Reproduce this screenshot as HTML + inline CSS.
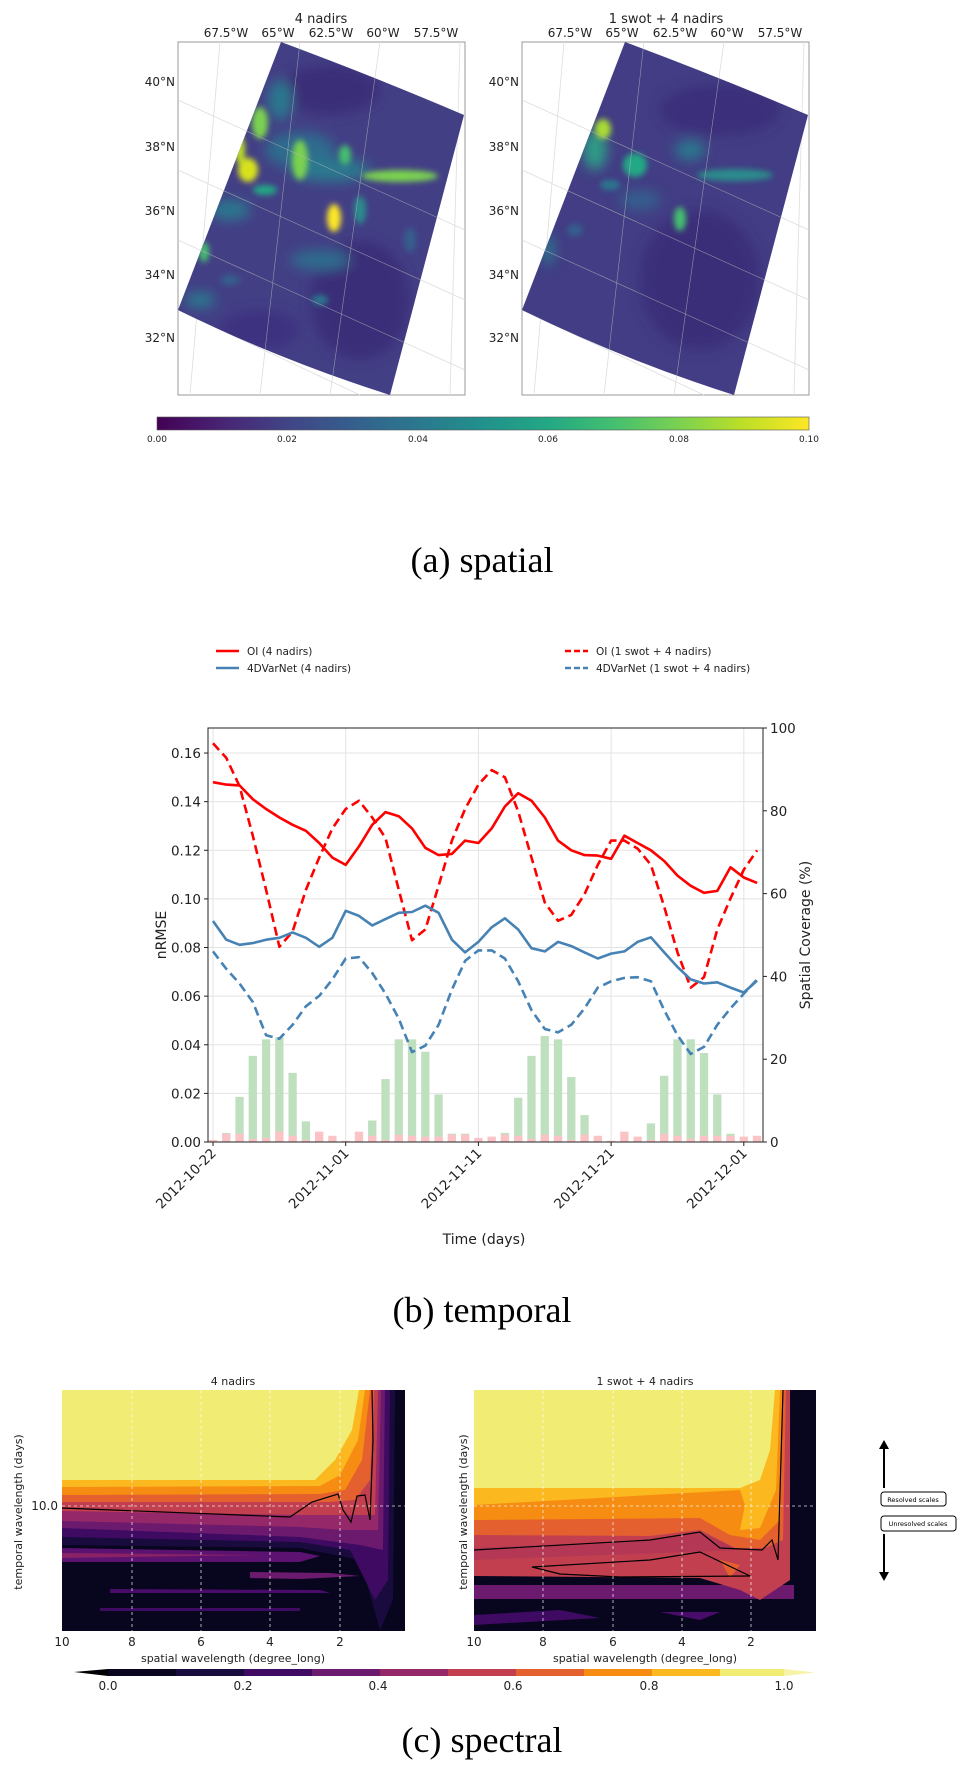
<!DOCTYPE html>
<html><head><meta charset="utf-8">
<style>
html,body{margin:0;padding:0;background:#fff;}
#root{position:relative;width:965px;height:1768px;overflow:hidden;}
svg text{font-family:"DejaVu Sans","Liberation Sans",sans-serif;}
.cap{font-family:"Liberation Serif",serif;font-size:36px;}
</style></head>
<body>
<div id="root">
<svg id="svg" width="965" height="1768" viewBox="0 0 965 1768" xmlns="http://www.w3.org/2000/svg">
<defs>
  <filter id="blur6" x="-50%" y="-50%" width="200%" height="200%"><feGaussianBlur stdDeviation="6"/></filter>
  <filter id="blur3" x="-50%" y="-50%" width="200%" height="200%"><feGaussianBlur stdDeviation="3"/></filter>
  <clipPath id="clipL"><path d="M281,42 Q370,75 464,115 L390,395 Q280,360 178,310 Z"/></clipPath>
  <clipPath id="clipR"><path d="M625,42 Q714,75 808,115 L734,395 Q624,360 522,310 Z"/></clipPath>
  <linearGradient id="viridis" x1="0" x2="1" y1="0" y2="0">
    <stop offset="0" stop-color="#440154"/><stop offset="0.1" stop-color="#482475"/>
    <stop offset="0.2" stop-color="#414487"/><stop offset="0.3" stop-color="#355f8d"/>
    <stop offset="0.4" stop-color="#2a788e"/><stop offset="0.5" stop-color="#21918c"/>
    <stop offset="0.6" stop-color="#22a884"/><stop offset="0.7" stop-color="#44bf70"/>
    <stop offset="0.8" stop-color="#7ad151"/><stop offset="0.9" stop-color="#bddf26"/>
    <stop offset="1" stop-color="#fde725"/>
  </linearGradient>
</defs>

<!-- ============ (a) spatial ============ -->
<g>
  <rect x="178" y="42" width="287" height="353" fill="#fff" stroke="#999" stroke-width="1"/>
  <g stroke="#ddd" stroke-width="0.8">
    <line x1="178" y1="100" x2="465" y2="230"/><line x1="178" y1="170" x2="465" y2="300"/>
    <line x1="178" y1="240" x2="465" y2="370"/><line x1="178" y1="310" x2="360" y2="395"/>
    <line x1="220" y1="42" x2="190" y2="395"/><line x1="300" y1="42" x2="260" y2="395"/>
    <line x1="380" y1="42" x2="330" y2="395"/><line x1="460" y1="42" x2="450" y2="395"/>
  </g>
  <g clip-path="url(#clipL)">
    <rect x="170" y="40" width="300" height="360" fill="#433f85"/>
    <g filter="url(#blur6)">
      <ellipse cx="330" cy="90" rx="50" ry="25" fill="#3a2d78"/>
      <ellipse cx="360" cy="300" rx="50" ry="60" fill="#3b2e79"/>
      <ellipse cx="260" cy="330" rx="40" ry="20" fill="#3d3280"/>
      <ellipse cx="300" cy="150" rx="35" ry="18" fill="#2f6c8e"/>
      <ellipse cx="330" cy="170" rx="40" ry="12" fill="#2a788e"/>
      <ellipse cx="230" cy="210" rx="20" ry="10" fill="#2a788e"/>
      <ellipse cx="320" cy="260" rx="30" ry="10" fill="#2f6c8e"/>
      <ellipse cx="280" cy="100" rx="12" ry="20" fill="#2a788e"/>
      <ellipse cx="200" cy="300" rx="15" ry="8" fill="#2a788e"/>
    </g>
    <g filter="url(#blur3)">
      <ellipse cx="260" cy="123" rx="8" ry="16" fill="#7ad151"/>
      <ellipse cx="248" cy="170" rx="10" ry="12" fill="#d8e21f"/>
      <ellipse cx="240" cy="150" rx="5" ry="14" fill="#bddf26"/>
      <ellipse cx="300" cy="160" rx="8" ry="20" fill="#7ad151"/>
      <ellipse cx="334" cy="218" rx="7" ry="14" fill="#fde725"/>
      <ellipse cx="345" cy="155" rx="6" ry="10" fill="#44bf70"/>
      <ellipse cx="400" cy="176" rx="38" ry="6" fill="#7ad151"/>
      <ellipse cx="204" cy="252" rx="5" ry="10" fill="#44bf70"/>
      <ellipse cx="265" cy="190" rx="12" ry="5" fill="#22a884"/>
      <ellipse cx="360" cy="210" rx="6" ry="14" fill="#2a8c8c"/>
      <ellipse cx="230" cy="280" rx="10" ry="5" fill="#355f8d"/>
      <ellipse cx="320" cy="300" rx="8" ry="5" fill="#2a788e"/>
      <ellipse cx="410" cy="240" rx="6" ry="12" fill="#355f8d"/>
    </g>
    <g stroke="#bbb" stroke-width="0.6" opacity="0.7">
      <line x1="178" y1="100" x2="465" y2="230"/><line x1="178" y1="170" x2="465" y2="300"/>
      <line x1="178" y1="240" x2="465" y2="370"/><line x1="300" y1="42" x2="260" y2="395"/>
      <line x1="380" y1="42" x2="330" y2="395"/>
    </g>
  </g>
</g>
<g>
  <rect x="522" y="42" width="287" height="353" fill="#fff" stroke="#999" stroke-width="1"/>
  <g stroke="#ddd" stroke-width="0.8">
    <line x1="522" y1="100" x2="809" y2="230"/><line x1="522" y1="170" x2="809" y2="300"/>
    <line x1="522" y1="240" x2="809" y2="370"/><line x1="522" y1="310" x2="704" y2="395"/>
    <line x1="564" y1="42" x2="534" y2="395"/><line x1="644" y1="42" x2="604" y2="395"/>
    <line x1="724" y1="42" x2="674" y2="395"/><line x1="804" y1="42" x2="794" y2="395"/>
  </g>
  <g clip-path="url(#clipR)">
    <rect x="514" y="40" width="300" height="360" fill="#423d84"/>
    <g filter="url(#blur6)">
      <ellipse cx="700" cy="280" rx="60" ry="70" fill="#3b2e79"/>
      <ellipse cx="720" cy="110" rx="60" ry="25" fill="#3b2f7a"/>
      <ellipse cx="595" cy="150" rx="12" ry="20" fill="#2e9b86"/>
      <ellipse cx="690" cy="150" rx="15" ry="10" fill="#2a788e"/>
      <ellipse cx="548" cy="250" rx="6" ry="15" fill="#2a788e"/>
      <ellipse cx="640" cy="200" rx="20" ry="10" fill="#355f8d"/>
    </g>
    <g filter="url(#blur3)">
      <ellipse cx="603" cy="129" rx="8" ry="10" fill="#a8db34"/>
      <ellipse cx="635" cy="165" rx="12" ry="12" fill="#22a884"/>
      <ellipse cx="680" cy="219" rx="6" ry="12" fill="#44bf70"/>
      <ellipse cx="735" cy="175" rx="38" ry="6" fill="#2a8c8c"/>
      <ellipse cx="610" cy="185" rx="10" ry="5" fill="#2a788e"/>
      <ellipse cx="575" cy="230" rx="8" ry="6" fill="#355f8d"/>
    </g>
    <g stroke="#bbb" stroke-width="0.6" opacity="0.7">
      <line x1="522" y1="100" x2="809" y2="230"/><line x1="522" y1="170" x2="809" y2="300"/>
      <line x1="522" y1="240" x2="809" y2="370"/><line x1="644" y1="42" x2="604" y2="395"/>
      <line x1="724" y1="42" x2="674" y2="395"/>
    </g>
  </g>
</g>
<g font-size="12" fill="#222">
  <text x="321" y="23" text-anchor="middle" font-size="13">4 nadirs</text>
  <text x="666" y="23" text-anchor="middle" font-size="13">1 swot + 4 nadirs</text>
  <g text-anchor="middle">
    <text x="226" y="37">67.5°W</text><text x="278" y="37">65°W</text><text x="331" y="37">62.5°W</text><text x="383" y="37">60°W</text><text x="436" y="37">57.5°W</text>
  </g>
  <g text-anchor="middle">
    <text x="570" y="37">67.5°W</text><text x="622" y="37">65°W</text><text x="675" y="37">62.5°W</text><text x="727" y="37">60°W</text><text x="780" y="37">57.5°W</text>
  </g>
  <g text-anchor="end">
    <text x="175" y="86">40°N</text><text x="175" y="151">38°N</text><text x="175" y="215">36°N</text><text x="175" y="279">34°N</text><text x="175" y="342">32°N</text>
  </g>
  <g text-anchor="end">
    <text x="519" y="86">40°N</text><text x="519" y="151">38°N</text><text x="519" y="215">36°N</text><text x="519" y="279">34°N</text><text x="519" y="342">32°N</text>
  </g>
</g>
<g>
  <rect x="157" y="417" width="652" height="13" fill="url(#viridis)" stroke="#555" stroke-width="0.6"/>
  <g font-size="9" fill="#222" text-anchor="middle">
    <text x="157" y="442">0.00</text><text x="287" y="442">0.02</text><text x="418" y="442">0.04</text>
    <text x="548" y="442">0.06</text><text x="679" y="442">0.08</text><text x="809" y="442">0.10</text>
  </g>
</g>
<text x="482" y="572" text-anchor="middle" class="cap">(a)   spatial</text>

<!-- ============ (b) temporal ============ -->
<g id="tchart"></g>
<text x="482" y="1322" text-anchor="middle" class="cap">(b)   temporal</text>

<!-- ============ (c) spectral ============ -->
<g>
  <svg x="62" y="1390" width="343" height="241" viewBox="62 1390 343 241" overflow="hidden">
    <rect x="62" y="1390" width="343" height="241" fill="#08051e"/>
    <path d="M62,1548 L300,1552 L320,1556 L300,1562 L62,1562 Z" fill="#5c1270"/>
    <path d="M62,1553 L260,1555 L62,1558 Z" fill="#8a2266"/>
    <path d="M250,1572 L330,1573 L360,1576 L300,1579 L250,1578 Z" fill="#6c1a6e"/>
    <path d="M110,1589 L320,1590 L330,1593 L110,1593 Z" fill="#4a0c6b"/>
    <path d="M100,1608 L300,1608 L300,1611 L100,1611 Z" fill="#3f0a62"/>
    <path d="M62,1390 L395,1390 L393,1600 L380,1630 L360,1560 L300,1548 L62,1545 Z" fill="#1a0b3e"/>
    <path d="M62,1390 L390,1390 L388,1580 L375,1600 L350,1550 L300,1542 L62,1537 Z" fill="#3f0a62"/>
    <path d="M62,1390 L385,1390 L383,1550 L360,1545 L300,1537 L62,1528 Z" fill="#6c1a6e"/>
    <path d="M62,1390 L381,1390 L378,1530 L345,1530 L300,1527 L62,1521 Z" fill="#952868"/>
    <path d="M62,1390 L378,1390 L375,1515 L345,1515 L300,1515 L62,1511 Z" fill="#c13f4e"/>
    <path d="M62,1390 L374,1390 L370,1480 L355,1500 L330,1502 L62,1502 Z" fill="#e4602f"/>
    <path d="M62,1390 L370,1390 L362,1460 L345,1490 L320,1494 L62,1495 Z" fill="#f68d12"/>
    <path d="M62,1390 L365,1390 L358,1440 L340,1475 L320,1486 L62,1487 Z" fill="#fbb91f"/>
    <path d="M62,1390 L359,1390 L352,1430 L335,1460 L315,1480 L62,1480 Z" fill="#f0ec74"/>
    <rect x="395" y="1390" width="10" height="241" fill="#08051e"/>
    <path d="M62,1508 L290,1517 L312,1502 L338,1494 L343,1510 L351,1522 L357,1496 L365,1495 L370,1520 L373,1440 L372,1390" fill="none" stroke="#000" stroke-width="1.2"/>
  </svg>
  <g stroke="#fff" stroke-width="0.8" stroke-dasharray="3,3" opacity="0.85">
    <line x1="132" y1="1390" x2="132" y2="1631"/><line x1="201" y1="1390" x2="201" y2="1631"/>
    <line x1="270" y1="1390" x2="270" y2="1631"/><line x1="340" y1="1390" x2="340" y2="1631"/>
    <line x1="62" y1="1506" x2="405" y2="1506"/>
  </g>
</g>
<g>
  <svg x="474" y="1390" width="342" height="241" viewBox="474 1390 342 241" overflow="hidden">
    <rect x="474" y="1390" width="342" height="241" fill="#08051e"/>
    <rect x="474" y="1585" width="320" height="14" fill="#6c1a6e"/>
    <path d="M474,1615 L560,1610 L600,1618 L474,1625 Z" fill="#3f0a62"/>
    <path d="M660,1612 L720,1612 L700,1620 Z" fill="#4a0c6b"/>
    <path d="M474,1390 L790,1390 L790,1580 L760,1600 L740,1590 L700,1578 L474,1576 Z" fill="#c13f4e"/>
    <path d="M474,1548 L650,1540 L700,1532 L740,1550 L474,1560 Z" fill="#a8325d" opacity="0.5"/>
    <path d="M474,1390 L786,1390 L783,1540 L765,1548 L735,1548 L700,1530 L650,1536 L474,1535 Z" fill="#e4602f"/>
    <path d="M474,1390 L783,1390 L780,1520 L760,1540 L730,1535 L700,1518 L474,1520 Z" fill="#f68d12"/>
    <path d="M474,1390 L780,1390 L776,1490 L760,1528 L740,1530 L745,1505 L740,1490 L474,1505 Z" fill="#fbb91f"/>
    <path d="M474,1390 L775,1390 L770,1450 L760,1480 L740,1488 L474,1488 Z" fill="#f0ec74"/>
    <path d="M720,1560 L740,1565 L730,1578 Z" fill="#e4602f"/>
    <rect x="796" y="1390" width="20" height="241" fill="#08051e"/>
    <path d="M474,1550 L650,1540 L700,1532 L720,1548 L762,1550 L772,1540 L778,1560 L783,1390" fill="none" stroke="#000" stroke-width="1.2"/>
    <path d="M532,1567 L650,1560 L700,1552 L750,1576 L620,1577 L560,1574 Z" fill="none" stroke="#000" stroke-width="1.2"/>
  </svg>
  <g stroke="#fff" stroke-width="0.8" stroke-dasharray="3,3" opacity="0.85">
    <line x1="543" y1="1390" x2="543" y2="1631"/><line x1="613" y1="1390" x2="613" y2="1631"/>
    <line x1="682" y1="1390" x2="682" y2="1631"/><line x1="751" y1="1390" x2="751" y2="1631"/>
    <line x1="474" y1="1506" x2="816" y2="1506"/>
  </g>
</g>
<g font-size="11" fill="#222">
  <text x="233" y="1385" text-anchor="middle">4 nadirs</text>
  <text x="645" y="1385" text-anchor="middle">1 swot + 4 nadirs</text>
  <g text-anchor="middle" font-size="12">
    <text x="62" y="1646">10</text><text x="132" y="1646">8</text><text x="201" y="1646">6</text><text x="270" y="1646">4</text><text x="340" y="1646">2</text>
  </g>
  <g text-anchor="middle" font-size="12">
    <text x="474" y="1646">10</text><text x="543" y="1646">8</text><text x="613" y="1646">6</text><text x="682" y="1646">4</text><text x="751" y="1646">2</text>
  </g>
  <text x="233" y="1662" text-anchor="middle">spatial wavelength (degree_long)</text>
  <text x="645" y="1662" text-anchor="middle">spatial wavelength (degree_long)</text>
  <text x="58" y="1510" text-anchor="end" font-size="12">10.0</text>
  <text transform="translate(22,1512) rotate(-90)" text-anchor="middle">temporal wavelength (days)</text>
  <text transform="translate(467,1512) rotate(-90)" text-anchor="middle">temporal wavelength (days)</text>
</g>
<g>
  <line x1="884" y1="1488" x2="884" y2="1448" stroke="#000" stroke-width="2"/>
  <path d="M879,1449 L884,1440 L889,1449 Z" fill="#000"/>
  <rect x="881" y="1492" width="65" height="14" rx="3" fill="#fff" stroke="#000" stroke-width="1"/>
  <text x="913" y="1502" font-size="6.5" text-anchor="middle">Resolved scales</text>
  <rect x="881" y="1516" width="75" height="15" rx="3" fill="#fff" stroke="#000" stroke-width="1"/>
  <text x="918" y="1526" font-size="6.5" text-anchor="middle">Unresolved scales</text>
  <line x1="884" y1="1534" x2="884" y2="1573" stroke="#000" stroke-width="2"/>
  <path d="M879,1572 L884,1581 L889,1572 Z" fill="#000"/>
</g>
<g>
  <path d="M74,1672 L108,1669 L108,1676 Z" fill="#000004"/>
  <rect x="108" y="1669" width="68" height="7" fill="#08051e"/>
  <rect x="176" y="1669" width="68" height="7" fill="#1a0b3e"/>
  <rect x="244" y="1669" width="68" height="7" fill="#3f0a62"/>
  <rect x="312" y="1669" width="68" height="7" fill="#6c1a6e"/>
  <rect x="380" y="1669" width="68" height="7" fill="#952868"/>
  <rect x="448" y="1669" width="68" height="7" fill="#c13f4e"/>
  <rect x="516" y="1669" width="68" height="7" fill="#e4602f"/>
  <rect x="584" y="1669" width="68" height="7" fill="#f68d12"/>
  <rect x="652" y="1669" width="68" height="7" fill="#fbb91f"/>
  <rect x="720" y="1669" width="64" height="7" fill="#f0ec74"/>
  <path d="M784,1669 L815,1672.5 L784,1676 Z" fill="#f7f3a8"/>
  <g font-size="12" fill="#222" text-anchor="middle">
    <text x="108" y="1690">0.0</text><text x="243" y="1690">0.2</text><text x="378" y="1690">0.4</text>
    <text x="513" y="1690">0.6</text><text x="649" y="1690">0.8</text><text x="784" y="1690">1.0</text>
  </g>
</g>
<text x="482" y="1752" text-anchor="middle" class="cap">(c)   spectral</text>
</svg>
</div>
<script>
const days = [0,1,2,3,4,5,6,7,8,9,10,11,12,13,14,15,16,17,18,19,20,21,22,23,24,25,26,27,28,29,30,31,32,33,34,35,36,37,38,39,40,41];
const oi4 = [0.148,0.147,0.1467,0.141,0.137,0.1335,0.1305,0.128,0.123,0.117,0.114,0.1216,0.1305,0.1357,0.134,0.129,0.121,0.118,0.1185,0.124,0.123,0.129,0.138,0.1435,0.1404,0.1335,0.124,0.12,0.118,0.1178,0.1165,0.126,0.123,0.12,0.1156,0.1096,0.1054,0.1025,0.1033,0.113,0.1088,0.1066];
const oiSwot = [0.164,0.158,0.1464,0.126,0.1037,0.0803,0.0866,0.1037,0.117,0.129,0.137,0.1404,0.1335,0.125,0.1037,0.083,0.0874,0.1054,0.124,0.137,0.147,0.153,0.150,0.136,0.117,0.0985,0.091,0.0934,0.102,0.114,0.124,0.124,0.1207,0.114,0.0968,0.078,0.0635,0.0678,0.0874,0.1002,0.112,0.12];
const var4 = [0.0909,0.0832,0.0811,0.0818,0.0832,0.084,0.0862,0.084,0.0803,0.084,0.0951,0.093,0.0891,0.0917,0.0943,0.0946,0.0972,0.0943,0.0832,0.078,0.0823,0.0883,0.092,0.0874,0.0797,0.0784,0.0823,0.0806,0.078,0.0755,0.0775,0.0784,0.0823,0.0842,0.078,0.072,0.0669,0.0652,0.0657,0.0635,0.0615,0.0664];
const varSwot = [0.0784,0.0712,0.0652,0.0576,0.0439,0.0425,0.0482,0.0558,0.0601,0.0669,0.0755,0.076,0.0695,0.061,0.0507,0.037,0.0396,0.0482,0.0627,0.0745,0.0788,0.0788,0.0755,0.0661,0.0542,0.0465,0.0451,0.0482,0.055,0.0635,0.0661,0.0675,0.0678,0.0661,0.0542,0.0439,0.0362,0.0391,0.0482,0.055,0.061,0.0669];
const coverSwot = [0,2.2,10.9,20.8,24.8,25.3,16.7,5,0,0,0,0,5.2,15.2,24.8,24.8,21.8,11.5,2,2,0,0,2.2,10.7,20.8,25.6,24.8,15.7,6.5,0,0,0,0,4.5,16,24.8,24.8,21.5,11.5,2,0,0];
const coverNadir = [0.5,2,2,0.7,1,2.5,1.5,0.5,2.5,1.5,0.3,2.5,1.5,0.5,1.8,1.5,1.3,1.3,1.8,1.8,1,1.3,1.8,1.5,0.8,1.8,1.5,0.5,1.8,1.5,0.3,2.5,1.3,0.5,2,1.5,0.8,1.5,1.5,1.5,1.3,1.5];
const leftTicks = [0,0.02,0.04,0.06,0.08,0.10,0.12,0.14,0.16];
const leftTickLabels = ["0.00","0.02","0.04","0.06","0.08","0.10","0.12","0.14","0.16"];
const rightTicks = [0,20,40,60,80,100];
const dateTicks = [0,10,20,30,40];
const dateLabels = ["2012-10-22","2012-11-01","2012-11-11","2012-11-21","2012-12-01"];

const NS='http://www.w3.org/2000/svg';
const g=document.getElementById('tchart');
const AX={l:208,r:763,t:728,b:1142};
function xS(d){return 213+13.27*d;}
function yL(v){return AX.b-v*(AX.b-AX.t)/0.1703;}
function yR(p){return AX.b-p*(AX.b-AX.t)/100;}
function mk(tag,attrs,parent){const e=document.createElementNS(NS,tag);for(const k in attrs)e.setAttribute(k,attrs[k]);(parent||g).appendChild(e);return e;}

leftTicks.forEach(v=>{const l=mk('line',{x1:AX.l,x2:AX.r,y1:yL(v),y2:yL(v),stroke:'#e3e3e3','stroke-width':1});

});
dateTicks.forEach(d=>{const l=mk('line',{x1:xS(d),x2:xS(d),y1:AX.t,y2:AX.b,stroke:'#e3e3e3','stroke-width':1});

});
const bw=8.3;
days.forEach((d,i)=>{
  if(coverSwot[i]>0){const b=mk('rect',{x:xS(d)-bw/2,y:yR(coverSwot[i]),width:bw,height:AX.b-yR(coverSwot[i]),fill:'#bfe0bf'});
  
  }
  const p=mk('rect',{x:xS(d)-bw/2,y:yR(coverNadir[i]),width:bw,height:AX.b-yR(coverNadir[i]),fill:'#fbc3c6'});
  
  
});
function line(arr,color,dash,name){
  const pts=days.map((d,i)=>xS(d).toFixed(1)+','+yL(arr[i]).toFixed(1)).join(' ');
  const a={points:pts,fill:'none',stroke:color,'stroke-width':2.6,'stroke-linejoin':'round'};
  if(dash)a['stroke-dasharray']=dash;
  const e=mk('polyline',a);
  
  
}
line(oi4,'#ff0000',null,'line-oi-4-nadirs');
line(oiSwot,'#ff0000','9,5','line-oi-swot');
line(var4,'#4682b4',null,'line-4dvarnet-4-nadirs');
line(varSwot,'#4682b4','9,5','line-4dvarnet-swot');
const fr=mk('rect',{x:AX.l,y:AX.t,width:AX.r-AX.l,height:AX.b-AX.t,fill:'none',stroke:'#222','stroke-width':1});


leftTicks.forEach((v,i)=>{
  mk('line',{x1:AX.l-4,x2:AX.l,y1:yL(v),y2:yL(v),stroke:'#222'});
  const t=mk('text',{x:AX.l-7,y:yL(v)+5,'text-anchor':'end','font-size':13.5,fill:'#222'});
  t.textContent=leftTickLabels[i];
  
  
});
rightTicks.forEach(p=>{
  mk('line',{x1:AX.r,x2:AX.r+4,y1:yR(p),y2:yR(p),stroke:'#222'});
  const t=mk('text',{x:AX.r+7,y:yR(p)+5,'font-size':13.5,fill:'#222'});
  t.textContent=String(p);
  
  
});
dateTicks.forEach((d,i)=>{
  mk('line',{x1:xS(d),x2:xS(d),y1:AX.b,y2:AX.b+4,stroke:'#222'});
  const t=mk('text',{transform:'translate('+(xS(d)+4)+','+(AX.b+12)+') rotate(-45)','text-anchor':'end','font-size':13.5,fill:'#222'});
  t.textContent=dateLabels[i];
  
  
});
const xl=mk('text',{x:484,y:1244,'text-anchor':'middle','font-size':14,fill:'#222'});xl.textContent='Time (days)';


const yl=mk('text',{transform:'translate(166,935) rotate(-90)','text-anchor':'middle','font-size':14,fill:'#222'});yl.textContent='nRMSE';


const y2=mk('text',{transform:'translate(810,935) rotate(-90)','text-anchor':'middle','font-size':14,fill:'#222'});y2.textContent='Spatial Coverage (%)';


const legItems=[[216,651,'#ff0000',null,'OI (4 nadirs)'],[216,668,'#4682b4',null,'4DVarNet (4 nadirs)'],[565,651,'#ff0000','6,3','OI (1 swot + 4 nadirs)'],[565,668,'#4682b4','6,3','4DVarNet (1 swot + 4 nadirs)']];
legItems.forEach(it=>{
  const a={x1:it[0],x2:it[0]+23,y1:it[1],y2:it[1],stroke:it[2],'stroke-width':2.6};
  if(it[3])a['stroke-dasharray']=it[3];
  const l=mk('line',a);
  
  
  const t=mk('text',{x:it[0]+31,y:it[1]+4,'font-size':10.5,fill:'#222'});
  t.textContent=it[4];
  
  
});
</script>
</body></html>
